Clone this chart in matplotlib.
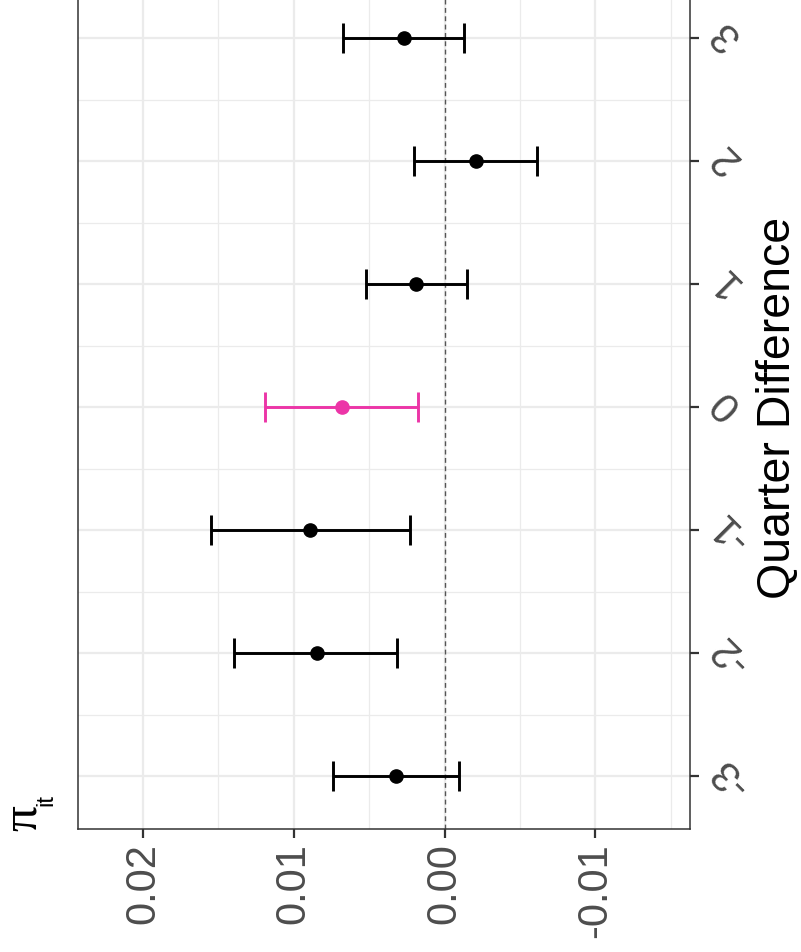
import matplotlib
matplotlib.use("Agg")
import matplotlib.pyplot as plt
import matplotlib.transforms as mtransforms
from matplotlib.ticker import FixedLocator

plt.rcParams['font.family'] = ['Liberation Sans', 'DejaVu Sans']
plt.rcParams['axes.unicode_minus'] = False

# data
quarters = [-3, -2, -1, 0, 1, 2, 3]
estimate = [0.00325, 0.00849, 0.00889, 0.00679, 0.00186, -0.00206, 0.00270]
ci_upper = [0.00743, 0.01385, 0.01546, 0.01183, 0.00524, 0.00204, 0.00668]
ci_lower = [-0.00091, 0.00303, 0.00232, 0.00170, -0.00150, -0.00615, -0.00133]
highlight_quarter = 0
value_ticks = [0.02, 0.01, 0.00, -0.01]
value_tick_labels = ['0.02', '0.01', '0.00', '-0.01']
quarter_tick_labels = ['-3', '-2', '-1', '0', '1', '2', '3']
value_limits = (0.02431, -0.01628)
quarter_limits = (-3.43, 3.43)

W, H = 801, 953
fig = plt.figure(figsize=(W / 100, H / 100), dpi=100)
ax = fig.add_axes([78 / W, 123 / H, 612 / W, 843.6 / H])

ax.set_xlim(*value_limits)
ax.set_ylim(*quarter_limits)

grid_c = '#EBEBEB'
ax.xaxis.set_major_locator(FixedLocator(value_ticks))
ax.xaxis.set_minor_locator(FixedLocator([0.015, 0.005, -0.005, -0.015]))
ax.yaxis.set_major_locator(FixedLocator(quarters))
ax.yaxis.set_minor_locator(FixedLocator([q + 0.5 for q in quarters[:-1]]))
ax.grid(which='major', color=grid_c, lw=1.6, zorder=0)
ax.grid(which='minor', color=grid_c, lw=0.9, zorder=0)
ax.set_axisbelow(True)

ax.axvline(0, color='#555555', lw=1.0, ls=(0, (3.5, 2.5)), zorder=1)

for q, e, lo, hi in zip(quarters, estimate, ci_lower, ci_upper):
    c = '#EC35A7' if q == highlight_quarter else 'black'
    ax.errorbar([e], [q], xerr=[[hi - e], [e - lo]], fmt='o', color=c,
                ms=9.5, lw=2.1, capsize=11, capthick=2.1, zorder=3)

for s in ax.spines.values():
    s.set_color('#333333')
    s.set_linewidth(1.1)

ax.set_xticklabels(value_tick_labels)
ax.tick_params(axis='x', which='major', direction='out', length=6.5, width=1.6,
               color='#333333', labelsize=30, labelcolor='#4D4D4D', pad=3,
               labelrotation=90)
ax.tick_params(axis='x', which='minor', length=0)
for lab in ax.get_xticklabels():
    lab.set_va('top')
    lab.set_ha('center')

# quarter axis on the right: ticks only, labels drawn as rotated texts
ax.yaxis.tick_right()
ax.tick_params(axis='y', which='major', direction='out', length=6.5, width=1.6,
               color='#333333', labelright=False)
ax.tick_params(axis='y', which='minor', length=0)
offset = mtransforms.ScaledTranslation(19.5 / 72, 9.5 / 72, fig.dpi_scale_trans)
ytrans = ax.get_yaxis_transform() + offset
for q, lab in zip(quarters, quarter_tick_labels):
    ax.text(1.0, q, lab, transform=ytrans, rotation=135, rotation_mode='anchor',
            ha='right', va='center', fontsize=30, color='#4D4D4D', clip_on=False)

fig.text(778 / W, (953 - 408) / H, 'Quarter Difference', rotation=90,
         ha='center', va='center', fontsize=33.5, color='black')

# plot title: pi with subscript "it"
fig.text(35.5 / W, (953 - 831) / H, '\u03c0', rotation=90, rotation_mode='anchor',
         ha='left', va='baseline', fontsize=37, color='black',
         family=['Liberation Serif', 'DejaVu Serif'])
fig.text(52 / W, (953 - 806) / H, 'it', rotation=90, rotation_mode='anchor',
         ha='left', va='baseline', fontsize=17, color='black')

fig.savefig('out.png', dpi=100)
